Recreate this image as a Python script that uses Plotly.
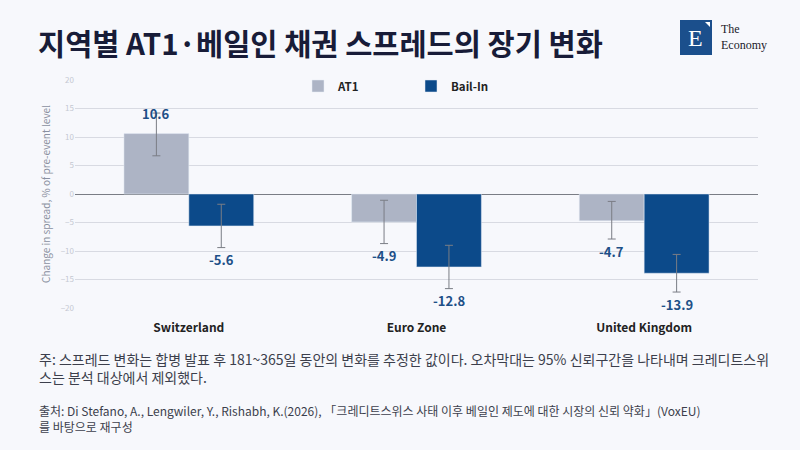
"""지역별 AT1·베일인 채권 스프레드의 장기 변화
"""

import plotly.graph_objects as go

# data
regions = ["Switzerland", "Euro Zone", "United Kingdom"]
at1 = [10.6, -4.9, -4.7]
at1_err_plus = [3.6, 3.8, 3.4]
at1_err_minus = [3.9, 3.8, 3.2]
bailin = [-5.6, -12.8, -13.9]
bailin_err_plus = [3.8, 3.8, 3.3]
bailin_err_minus = [3.8, 3.8, 3.3]
y_ticks = [-20, -15, -10, -5, 0, 5, 10, 15, 20]

TITLE = "지역별 AT1·베일인 채권 스프레드의 장기 변화"
NOTE = ("주: 스프레드 변화는 합병 발표 후 181~365일 동안의 변화를 추정한 값이다. "
        "오차막대는 95% 신뢰구간을 나타내며 크레디트스위<br>스는 분석 대상에서 제외했다.")
SOURCE = ("출처: Di Stefano, A., Lengwiler, Y., Rishabh, K.(2026), "
          "「크레디트스위스 사태 이후 베일인 제도에 대한 시장의 신뢰 약화」(VoxEU)<br>를 바탕으로 재구성")

BG = "#f7f8fc"
GREY = "#adb4c5"
NAVY = "#0c4a8a"
LABEL = "#1d4f87"
FONT = "Noto Sans CJK KR"

# plot area in pixels
L, R, T, B = 75, 758, 80, 308


def px(x):
    return (x - L) / (R - L)


def py(y):
    return (B - y) / (B - T)


fig = go.Figure()

fig.add_trace(go.Bar(
    x=regions, y=at1, name="AT1", marker_color=GREY,
    error_y=dict(type="data", symmetric=False, array=at1_err_plus,
                 arrayminus=at1_err_minus, color="#7a7d85", thickness=1, width=4),
))
fig.add_trace(go.Bar(
    x=regions, y=bailin, name="Bail-In", marker_color=NAVY,
    error_y=dict(type="data", symmetric=False, array=bailin_err_plus,
                 arrayminus=bailin_err_minus, color="#7a7d85", thickness=1, width=4),
))

# value labels at the end of the error bars
for vals, plus, minus, shift in [(at1, at1_err_plus, at1_err_minus, -0.143),
                                 (bailin, bailin_err_plus, bailin_err_minus, 0.143)]:
    for i, v in enumerate(vals):
        if v >= 0:
            y, ys = v + plus[i], 0
        else:
            y, ys = v - minus[i], -12
        fig.add_annotation(x=i + shift, y=y, text="<b>%.1f</b>" % v, showarrow=False,
                           yshift=ys, font=dict(size=13, color=LABEL, family=FONT),
                           xref="x", yref="y")

fig.update_layout(
    width=800, height=450,
    paper_bgcolor=BG, plot_bgcolor=BG,
    margin=dict(l=L, r=800 - R, t=T, b=450 - B, pad=0),
    font=dict(family=FONT),
    barmode="group", bargap=0.43, bargroupgap=0,
    showlegend=True,
    legend=dict(orientation="h", x=px(298), y=py(86), xanchor="left", yanchor="middle",
                font=dict(size=11.5, color="#222", family=FONT, weight="bold"),
                itemwidth=30, traceorder="normal", bgcolor="rgba(0,0,0,0)",
                entrywidth=68),
    xaxis=dict(tickfont=dict(size=12, color="#222", family=FONT, weight="bold"),
               showgrid=False, ticks="", showline=False, ticklabelstandoff=11),
    yaxis=dict(range=[-20, 20], tickvals=y_ticks,
               tickfont=dict(size=8, color="#c5c8d2"),
               gridcolor="#d8dae2", gridwidth=1,
               zeroline=True, zerolinecolor="#7a7d85", zerolinewidth=1,
               title=dict(text="Change in spread, % of pre-event level",
                          font=dict(size=10, color="#8a90a0", family=FONT), standoff=8)),
)

# title
fig.add_annotation(x=px(36), y=py(42), xref="paper", yref="paper", text="<b>" + TITLE + "</b>",
                   showarrow=False, xanchor="left", yanchor="middle",
                   font=dict(size=29.5, color="#181c38", family=FONT))

# logo
fig.add_shape(type="rect", xref="paper", yref="paper",
              x0=px(680), x1=px(712), y0=py(55), y1=py(20),
              fillcolor="#1b4f8c", line_width=0)
fig.add_shape(type="path", xref="paper", yref="paper",
              path="M %f,%f L %f,%f L %f,%f Z" % (px(705), py(22), px(710), py(22), px(710), py(27)),
              fillcolor="white", line_width=0)
fig.add_annotation(x=px(695), y=py(38.5), xref="paper", yref="paper", text="E",
                   showarrow=False, xanchor="center", yanchor="middle",
                   font=dict(size=24, color="white", family="Liberation Serif"))
fig.add_annotation(x=px(719), y=py(37), xref="paper", yref="paper", text="The<br>Economy",
                   showarrow=False, xanchor="left", yanchor="middle", align="left",
                   font=dict(size=12, color="#1a1a2a", family="Liberation Serif"))

# footnotes
fig.add_annotation(x=px(37), y=py(368), xref="paper", yref="paper", text=NOTE,
                   showarrow=False, xanchor="left", yanchor="middle", align="left",
                   font=dict(size=14, color="#3c3f4c", family=FONT))
fig.add_annotation(x=px(37), y=py(418), xref="paper", yref="paper", text=SOURCE,
                   showarrow=False, xanchor="left", yanchor="middle", align="left",
                   font=dict(size=12, color="#3c3f4c", family=FONT))

fig.write_html("out.html", config={"displayModeBar": False},
               post_script="document.body.style.margin='0';")
